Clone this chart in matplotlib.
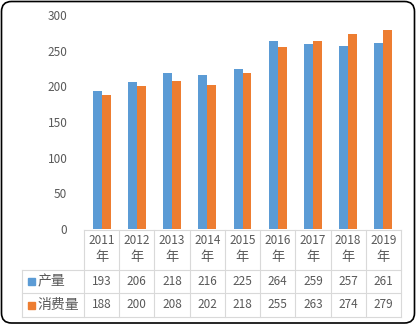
import numpy as np
import matplotlib
matplotlib.use("Agg")
import matplotlib.pyplot as plt
from matplotlib.patches import FancyBboxPatch, Rectangle

plt.rcParams['font.family'] = ['Noto Sans CJK SC', 'DejaVu Sans']

years = ['2011', '2012', '2013', '2014', '2015', '2016', '2017', '2018', '2019']
production = [193, 206, 218, 216, 225, 264, 259, 257, 261]
consumption = [188, 200, 208, 202, 218, 255, 263, 274, 279]
series_names = ['产量', '消费量']
colors = ['#5B9BD5', '#ED7D31']
txt_col = '#595959'
grid_col = '#D9D9D9'

W, H = 417, 325
fig = plt.figure(figsize=(W / 100, H / 100), dpi=100)

# plot area in pixels
x0, x1 = 84, 401
ytop, ybot = 15, 229
ax = fig.add_axes([x0 / W, (H - ybot) / H, (x1 - x0) / W, (ybot - ytop) / H])

n = len(years)
x = np.arange(n)
bw = 0.255
ax.bar(x - bw / 2, production, bw, color=colors[0])
ax.bar(x + bw / 2, consumption, bw, color=colors[1])
ax.set_xlim(-0.5, n - 0.5)
ax.set_ylim(0, 300)
ax.set_yticks(range(0, 301, 50))
ax.set_xticks([])
for s in ax.spines.values():
    s.set_visible(False)
ax.tick_params(axis='y', length=0, pad=12, labelsize=8.5, labelcolor=txt_col)

# overlay in pixel coordinates for the data table and border
ov = fig.add_axes([0, 0, 1, 1])
ov.set_xlim(0, W)
ov.set_ylim(H, 0)
ov.axis('off')
ov.patch.set_visible(False)

cw = (x1 - x0) / n
r_head, r1, r2, r3 = 230, 270, 293, 317
lx = 22
lw = 0.8
ov.plot([x0, x1], [r_head, r_head], color=grid_col, lw=lw)
for yy in (r1, r2, r3):
    ov.plot([lx, x1], [yy, yy], color=grid_col, lw=lw)
ov.plot([lx, lx], [r1, r3], color=grid_col, lw=lw)
for i in range(n + 1):
    xx = x0 + i * cw
    ov.plot([xx, xx], [r_head, r3], color=grid_col, lw=lw)

fs = 8.5
for i, yr in enumerate(years):
    cx = x0 + (i + 0.5) * cw
    ov.text(cx, 241, yr, ha='center', va='center', fontsize=fs, color=txt_col)
    ov.text(cx, 258, '年', ha='center', va='center', fontsize=9.5, color=txt_col)
    ov.text(cx, (r1 + r2) / 2, str(production[i]), ha='center', va='center', fontsize=fs, color=txt_col)
    ov.text(cx, (r2 + r3) / 2, str(consumption[i]), ha='center', va='center', fontsize=fs, color=txt_col)

for j, (name, c) in enumerate(zip(series_names, colors)):
    ymid = [(r1 + r2) / 2, (r2 + r3) / 2][j]
    ov.add_patch(Rectangle((28, ymid - 3.5), 7, 7, color=c))
    ov.text(37.5, ymid, name, ha='left', va='center', fontsize=10, color=txt_col)

ov.add_patch(FancyBboxPatch((1.5, 1.5), W - 4, H - 3.5,
                            boxstyle='round,pad=0,rounding_size=10',
                            fill=False, ec='black', lw=1.2))

fig.savefig('out.png', dpi=100)
